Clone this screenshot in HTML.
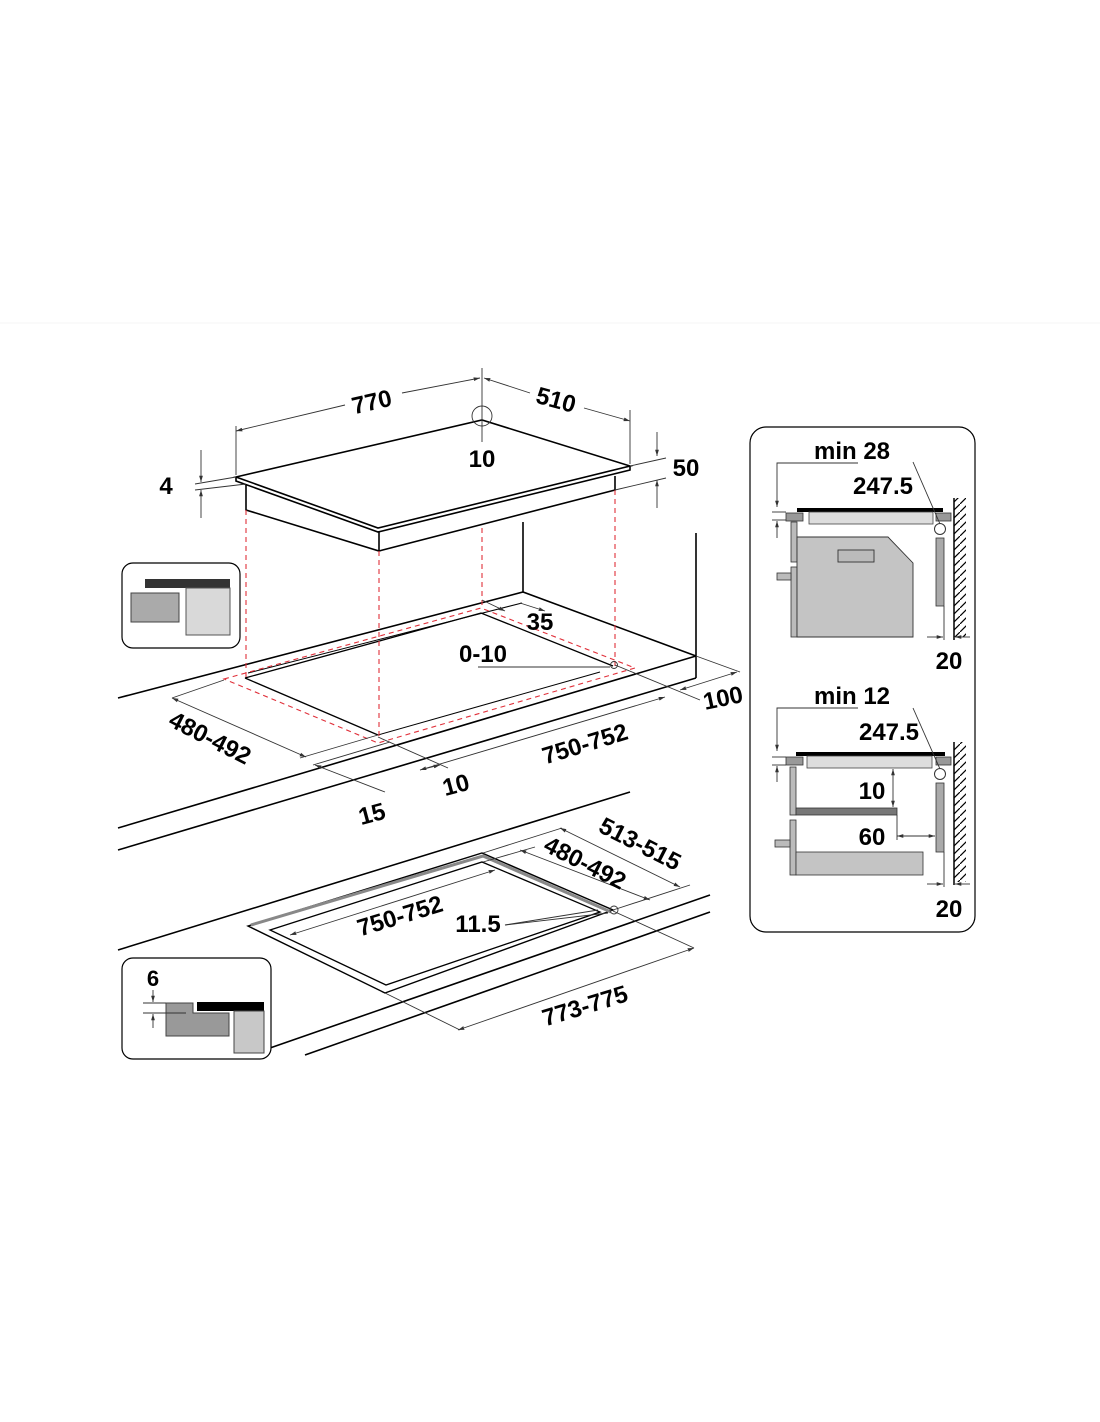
<!DOCTYPE html>
<html><head><meta charset="utf-8"><style>
html,body{margin:0;padding:0;background:#fff;}
svg{display:block;}
text{font-family:"Liberation Sans",sans-serif;font-weight:bold;fill:#000;}
</style></head><body>
<svg width="1100" height="1422" viewBox="0 0 1100 1422" xmlns="http://www.w3.org/2000/svg">
<defs>
<marker id="a" viewBox="0 0 10 10" refX="10" refY="5" markerWidth="7" markerHeight="7" orient="auto-start-reverse"><path d="M0,2 L10,5 L0,8z" fill="#333"/></marker>
<pattern id="h" width="8" height="8" patternUnits="userSpaceOnUse"><path d="M0,8 L8,0" stroke="#000" stroke-width="1.2"/></pattern>
</defs>
<line x1="0" y1="323" x2="1100" y2="323" stroke="#f4f4f4"/>
<g fill="none" stroke="#000" stroke-width="1.6">
<polygon points="236,477 482,420 630,466 378,528" fill="#fff"/>
<polyline points="236,477 236,481 378,532 630,470 630,466"/>
<polyline points="246,484 246,510 379,551 615,490 615,476"/>
<line x1="379" y1="531" x2="379" y2="551"/>
<polyline points="118,698 523,592 696,656"/>
<line x1="523" y1="522" x2="523" y2="592"/>
<line x1="696" y1="533" x2="696" y2="678"/>
<line x1="696" y1="656" x2="118" y2="828"/>
<line x1="696" y1="678" x2="118" y2="850"/>
<polyline points="245,678 481,613 613,666" stroke-width="1.3"/>
<polyline points="245,678 378,735" stroke-width="1.3"/>
<line x1="522" y1="603" x2="248" y2="673" stroke-width="1"/>
<line x1="378" y1="735" x2="600" y2="672" stroke-width="1"/>
<line x1="118" y1="950" x2="630" y2="792"/>
<line x1="270" y1="1048" x2="710" y2="895"/>
<line x1="305" y1="1055" x2="710" y2="912"/>
<polygon points="248,926 482,853 613,910 385,993" stroke-width="1.4"/>
<polyline points="251,925 483,856 611,912" stroke="#888" stroke-width="3"/>
<polygon points="270,930 482,862 600,912 386,985" stroke-width="1.3"/>
</g>
<g fill="none" stroke="#e0303a" stroke-width="1.1" stroke-dasharray="5,4">
<line x1="246" y1="510" x2="246" y2="680"/>
<line x1="379" y1="551" x2="379" y2="740"/>
<line x1="482" y1="528" x2="482" y2="608"/>
<line x1="615" y1="490" x2="615" y2="668"/>
<polygon points="224,679 481,608 635,668 378,743"/>
</g>
<g fill="none" stroke="#333" stroke-width="0.9">
<line x1="236" y1="475" x2="236" y2="426"/>
<line x1="630" y1="464" x2="630" y2="410"/>
<line x1="482" y1="368" x2="482" y2="442"/>
<circle cx="482" cy="416" r="10"/>
<line x1="236" y1="431" x2="345" y2="405" marker-start="url(#a)"/>
<line x1="402" y1="393" x2="480" y2="378" marker-end="url(#a)"/>
<line x1="484" y1="378" x2="530" y2="393" marker-start="url(#a)"/>
<line x1="584" y1="408" x2="630" y2="421" marker-end="url(#a)"/>
<line x1="201" y1="450" x2="201" y2="482" marker-end="url(#a)"/>
<line x1="201" y1="518" x2="201" y2="490" marker-end="url(#a)"/>
<line x1="195" y1="484" x2="236" y2="477"/><line x1="195" y1="490" x2="246" y2="484"/>
<line x1="657" y1="432" x2="657" y2="456" marker-end="url(#a)"/>
<line x1="657" y1="508" x2="657" y2="480" marker-end="url(#a)"/>
<line x1="630" y1="466" x2="666" y2="458"/><line x1="615" y1="490" x2="666" y2="478"/>
<line x1="520" y1="603" x2="545" y2="611" marker-end="url(#a)"/>
<line x1="482" y1="600" x2="505" y2="611" marker-end="url(#a)"/>
<line x1="478" y1="667" x2="610" y2="667"/>
<circle cx="614" cy="665" r="3.5"/>
<line x1="615" y1="665" x2="700" y2="700"/>
<line x1="696" y1="656" x2="740" y2="672"/>
<line x1="680" y1="690" x2="737" y2="672" marker-start="url(#a)" marker-end="url(#a)"/>
<line x1="420" y1="770" x2="665" y2="697" marker-start="url(#a)" marker-end="url(#a)"/>
<line x1="172" y1="698" x2="306" y2="757" marker-start="url(#a)" marker-end="url(#a)"/>
<line x1="172" y1="698" x2="224" y2="680"/>
<line x1="300" y1="758" x2="378" y2="735"/>
<line x1="313" y1="765" x2="390" y2="742"/>
<line x1="315" y1="765" x2="385" y2="792" marker-start="url(#a)"/>
<line x1="378" y1="737" x2="448" y2="768"/>
<line x1="420" y1="770" x2="440" y2="765" marker-end="url(#a)"/>
<line x1="483" y1="853" x2="562" y2="828"/>
<line x1="483" y1="862" x2="535" y2="847"/>
<line x1="560" y1="828" x2="680" y2="887" marker-start="url(#a)" marker-end="url(#a)"/>
<line x1="520" y1="850" x2="650" y2="900" marker-start="url(#a)" marker-end="url(#a)"/>
<line x1="613" y1="910" x2="690" y2="885"/>
<line x1="613" y1="911" x2="694" y2="948"/>
<line x1="290" y1="935" x2="495" y2="870" marker-start="url(#a)" marker-end="url(#a)"/>
<circle cx="614" cy="910" r="4"/>
<line x1="505" y1="925" x2="608" y2="913"/>
<line x1="505" y1="925" x2="598" y2="910"/>
<line x1="385" y1="993" x2="460" y2="1030"/>
<line x1="458" y1="1030" x2="694" y2="948" marker-start="url(#a)" marker-end="url(#a)"/>
</g>
<text x="372" y="410" font-size="24" text-anchor="middle" transform="rotate(-13 372 403)">770</text>
<text x="556" y="408" font-size="24" text-anchor="middle" transform="rotate(15 556 400)">510</text>
<text x="482" y="467" font-size="24" text-anchor="middle">10</text>
<text x="166" y="494" font-size="24" text-anchor="middle">4</text>
<text x="686" y="476" font-size="24" text-anchor="middle">50</text>
<text x="540" y="630" font-size="24" text-anchor="middle">35</text>
<text x="483" y="662" font-size="24" text-anchor="middle">0-10</text>
<text x="723" y="706" font-size="24" text-anchor="middle" transform="rotate(-12 723 698)">100</text>
<text x="585" y="752" font-size="24" text-anchor="middle" transform="rotate(-17 585 744)">750-752</text>
<text x="210" y="746" font-size="24" text-anchor="middle" transform="rotate(27 210 738)">480-492</text>
<text x="456" y="793" font-size="24" text-anchor="middle" transform="rotate(-15 456 785)">10</text>
<text x="372" y="822" font-size="24" text-anchor="middle" transform="rotate(-15 372 814)">15</text>
<text x="640" y="852" font-size="24" text-anchor="middle" transform="rotate(27 640 844)">513-515</text>
<text x="585" y="871" font-size="24" text-anchor="middle" transform="rotate(27 585 863)">480-492</text>
<text x="400" y="924" font-size="24" text-anchor="middle" transform="rotate(-17 400 916)">750-752</text>
<text x="478" y="932" font-size="24" text-anchor="middle">11.5</text>
<text x="585" y="1014" font-size="24" text-anchor="middle" transform="rotate(-17 585 1006)">773-775</text>
<rect x="122" y="563" width="118" height="85" rx="11" fill="#fff" stroke="#000" stroke-width="1.2"/>
<rect x="145" y="579" width="85" height="9" fill="#333"/>
<rect x="186" y="588" width="44" height="47" fill="#d9d9d9" stroke="#555"/>
<rect x="131" y="593" width="48" height="29" fill="#aaa" stroke="#444"/>
<rect x="122" y="958" width="149" height="101" rx="11" fill="#fff" stroke="#000" stroke-width="1.2"/>
<text x="153" y="986" font-size="22" text-anchor="middle">6</text>
<rect x="197" y="1002" width="67" height="9" fill="#000"/>
<rect x="234" y="1011" width="30" height="42" fill="#c8c8c8" stroke="#444"/>
<path d="M166,1003 H193 V1013 H229 V1036 H166 Z" fill="#999" stroke="#444"/>
<g stroke="#333" stroke-width="0.9" fill="none">
<line x1="143" y1="1003" x2="166" y2="1003"/><line x1="143" y1="1013" x2="186" y2="1013"/>
<line x1="153" y1="990" x2="153" y2="1002" marker-end="url(#a)"/>
<line x1="153" y1="1028" x2="153" y2="1014" marker-end="url(#a)"/>
</g>
<rect x="750" y="427" width="225" height="505" rx="16" fill="#fff" stroke="#000" stroke-width="1.2"/>
<text x="852" y="459" font-size="24" text-anchor="middle">min 28</text>
<text x="883" y="494" font-size="24" text-anchor="middle">247.5</text>
<rect x="797" y="508" width="146" height="4" fill="#000"/>
<rect x="786" y="513" width="17" height="8" fill="#999" stroke="#333" stroke-width="0.8"/>
<rect x="936" y="513" width="15" height="8" fill="#999" stroke="#333" stroke-width="0.8"/>
<rect x="809" y="512" width="124" height="12" fill="#ddd" stroke="#444" stroke-width="0.8"/>
<circle cx="940" cy="529" r="5.5" fill="#fff" stroke="#333"/>
<rect x="791" y="522" width="6" height="40" fill="#bbb" stroke="#333" stroke-width="0.8"/>
<rect x="791" y="567" width="6" height="70" fill="#bbb" stroke="#333" stroke-width="0.8"/>
<rect x="777" y="573" width="14" height="7" fill="#bbb" stroke="#333" stroke-width="0.8"/>
<path d="M797,537 H888 L913,563 V637 H797 Z" fill="#c4c4c4" stroke="#333" stroke-width="0.9"/>
<rect x="838" y="550" width="36" height="12" fill="#bbb" stroke="#333" stroke-width="0.9"/>
<rect x="936" y="538" width="8" height="68" fill="#aaa" stroke="#333" stroke-width="0.8"/>
<rect x="954" y="498" width="12" height="139" fill="url(#h)"/>
<line x1="954" y1="498" x2="954" y2="640" stroke="#000" stroke-width="1.5"/>
<g stroke="#333" stroke-width="0.9" fill="none">
<polyline points="858,463 777,463 777,507" marker-end="url(#a)"/>
<line x1="772" y1="512" x2="786" y2="512"/><line x1="772" y1="520" x2="786" y2="520"/>
<line x1="777" y1="538" x2="777" y2="521" marker-end="url(#a)"/>
<line x1="913" y1="462" x2="940" y2="524"/>
<line x1="944" y1="606" x2="944" y2="640"/>
<line x1="927" y1="637" x2="943" y2="637" marker-end="url(#a)"/>
<line x1="970" y1="637" x2="955" y2="637" marker-end="url(#a)"/>
</g>
<text x="949" y="669" font-size="24" text-anchor="middle">20</text>
<text x="852" y="704" font-size="24" text-anchor="middle">min 12</text>
<text x="889" y="740" font-size="24" text-anchor="middle">247.5</text>
<rect x="796" y="752" width="149" height="4" fill="#000"/>
<rect x="786" y="757" width="17" height="8" fill="#999" stroke="#333" stroke-width="0.8"/>
<rect x="936" y="757" width="15" height="8" fill="#999" stroke="#333" stroke-width="0.8"/>
<rect x="807" y="756" width="125" height="12" fill="#ddd" stroke="#444" stroke-width="0.8"/>
<circle cx="940" cy="774" r="5.5" fill="#fff" stroke="#333"/>
<rect x="790" y="767" width="6" height="48" fill="#bbb" stroke="#333" stroke-width="0.8"/>
<rect x="790" y="820" width="6" height="55" fill="#bbb" stroke="#333" stroke-width="0.8"/>
<rect x="775" y="840" width="15" height="7" fill="#bbb" stroke="#333" stroke-width="0.8"/>
<rect x="796" y="808" width="101" height="7" fill="#777" stroke="#333" stroke-width="0.8"/>
<rect x="796" y="852" width="127" height="23" fill="#c4c4c4" stroke="#333" stroke-width="0.8"/>
<rect x="936" y="783" width="8" height="69" fill="#aaa" stroke="#333" stroke-width="0.8"/>
<rect x="954" y="742" width="12" height="140" fill="url(#h)"/>
<line x1="954" y1="742" x2="954" y2="885" stroke="#000" stroke-width="1.5"/>
<g stroke="#333" stroke-width="0.9" fill="none">
<polyline points="858,708 777,708 777,751" marker-end="url(#a)"/>
<line x1="772" y1="757" x2="786" y2="757"/><line x1="772" y1="765" x2="786" y2="765"/>
<line x1="777" y1="782" x2="777" y2="766" marker-end="url(#a)"/>
<line x1="913" y1="708" x2="940" y2="769"/>
<line x1="893" y1="788" x2="893" y2="769" marker-end="url(#a)"/>
<line x1="893" y1="788" x2="893" y2="807" marker-end="url(#a)"/>
<line x1="897" y1="815" x2="897" y2="840"/>
<line x1="897" y1="836" x2="935" y2="836" marker-start="url(#a)" marker-end="url(#a)"/>
<line x1="944" y1="852" x2="944" y2="887"/>
<line x1="927" y1="884" x2="943" y2="884" marker-end="url(#a)"/>
<line x1="970" y1="884" x2="955" y2="884" marker-end="url(#a)"/>
</g>
<text x="872" y="799" font-size="24" text-anchor="middle">10</text>
<text x="872" y="845" font-size="24" text-anchor="middle">60</text>
<text x="949" y="917" font-size="24" text-anchor="middle">20</text>
</svg>
</body></html>
